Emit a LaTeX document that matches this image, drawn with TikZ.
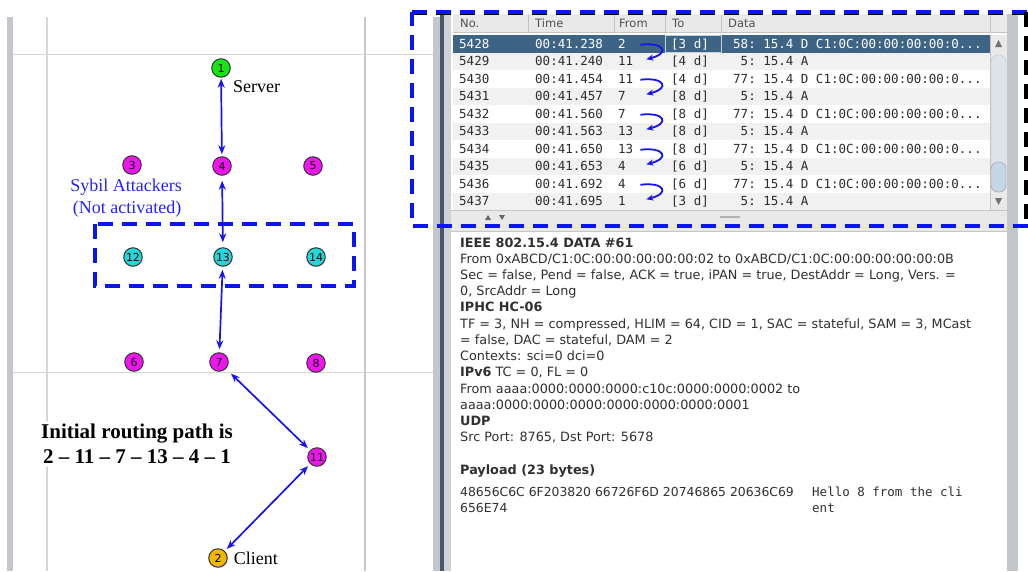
\documentclass[tikz,border=0pt]{standalone}
\usepackage{fontspec}
\setmainfont{Liberation Serif}
\setsansfont{DejaVu Sans}
\setmonofont{DejaVu Sans Mono}
\usetikzlibrary{arrows.meta,positioning,calc}

\definecolor{bargray}{HTML}{C3C7CB}
\definecolor{gridline}{HTML}{D6D6D6}
\definecolor{darkbar}{HTML}{45596A}
\definecolor{selrow}{HTML}{3E6485}
\definecolor{rowgray}{HTML}{F1F1F1}
\definecolor{headfill}{HTML}{E9E9E9}
\definecolor{headline}{HTML}{C4C4C4}
\definecolor{headtext}{HTML}{505050}
\definecolor{tabtext}{HTML}{2C2C2C}
\definecolor{dettext}{HTML}{303030}
\definecolor{linkblue}{HTML}{1414F0}
\definecolor{dashblue}{HTML}{0A14F5}
\definecolor{sybilblue}{HTML}{2424F2}
\definecolor{motegreen}{HTML}{14E614}
\definecolor{motemag}{HTML}{F014F0}
\definecolor{motecyan}{HTML}{1ED9D9}
\definecolor{motegold}{HTML}{F2B705}
\definecolor{thumbfill}{HTML}{DCE3EA}
\definecolor{thumbblue}{HTML}{C5D6E6}

\begin{document}
\begin{tikzpicture}[x=1pt,y=-1pt,
  mote/.style={circle, draw=black!80, line width=1pt, minimum size=18.5pt, inner sep=0pt,
    font=\sffamily\fontsize{11}{11}\selectfont},
  link/.style={{Stealth[length=9pt,width=7pt]}-{Stealth[length=9pt,width=7pt]},
    linkblue, line width=1.7pt, shorten <=3pt, shorten >=3pt},
  lbl/.style={font=\fontsize{18}{20}\selectfont},
  dashbox/.style={draw=dashblue, line width=3.6pt, dash pattern=on 15pt off 9pt},
  cell/.style={anchor=west, inner sep=0pt, text height=9pt, text depth=0pt,
    font=\ttfamily\fontsize{12.5}{14}\selectfont},
  colhead/.style={anchor=west, inner sep=0pt, text=headtext,
    font=\sffamily\fontsize{11.5}{13}\selectfont},
  det/.style={anchor=base west, inner sep=0pt, text=dettext,
    font=\sffamily\fontsize{12.8}{15}\selectfont},
  hook/.style={-{Stealth[length=7pt,width=6pt]}, linkblue, line width=1.8pt}
]
\useasboundingbox (0,0) rectangle (1028,571);

% simulator frame, left side
\fill[bargray] (7,17) rectangle (13,571);
\draw[gridline, line width=1.2pt] (47,17) -- (47,571);
\draw[bargray, line width=1.4pt] (365,17) -- (365,571);
\draw[gridline, line width=1pt] (13,54) -- (433,54);
\draw[gridline, line width=1pt] (13,372) -- (433,372);
\fill[bargray] (433,17) rectangle (440,571);

% motes
\node[mote, fill=motegreen] (n1) at (221,68) {1};
\node[mote, fill=motemag] (n3) at (132,165) {3};
\node[mote, fill=motemag] (n4) at (222,166) {4};
\node[mote, fill=motemag] (n5) at (313,166) {5};
\node[mote, fill=motecyan] (n12) at (133,257) {12};
\node[mote, fill=motecyan] (n13) at (223,257) {13};
\node[mote, fill=motecyan] (n14) at (316,257) {14};
\node[mote, fill=motemag] (n6) at (134,362) {6};
\node[mote, fill=motemag] (n7) at (219,362) {7};
\node[mote, fill=motemag] (n8) at (316,363) {8};
\node[mote, fill=motemag] (n11) at (317,457) {11};
\node[mote, fill=motegold] (n2) at (218,558) {2};

\node[lbl, anchor=west, inner sep=0pt] (srv) at (233,87) {Server};
\node[lbl, right=6pt of n2, inner sep=0pt] (cli) {Client};
\node[lbl, text=sybilblue, inner sep=0pt] (syb) at (126,187) {Sybil Attackers};
\node[lbl, text=sybilblue, inner sep=0pt] (nact) at (127,209) {(Not activated)};
\node[font=\bfseries\fontsize{21}{25}\selectfont, align=center, fill=white, inner sep=3pt]
  (route) at (137,444) {Initial routing path is\\2 – 11 – 7 – 13 – 4 – 1};

\draw[link, shorten <=1pt, shorten >=2pt] (n1) -- (n4);
\draw[link, shorten <=5pt, shorten >=5pt] (n4) -- (n13);
\draw[link] (n13) -- (n7);
\draw[link, shorten <=7pt] (n7) -- (n11);
\draw[link] (n11) -- (n2);

\draw[dashbox] (95,224) rectangle (354,286);

% packet list
\fill[darkbar] (440,14) rectangle (444,571);
\fill[bargray!80] (444,14) rectangle (451,571);
\fill[white] (451,14) rectangle (1007,210);
\fill[headfill] (453,14) rectangle (1007,32);
\draw[headline] (453,32) -- (1007,32);
\foreach \sx in {528,614,665,721,990}
  \draw[headline] (\sx,15) -- (\sx,32);
\node[colhead] (hno) at (460,23) {No.};
\node[colhead] (htm) at (535,23) {Time};
\node[colhead] (hfr) at (619,23) {From};
\node[colhead] (hto) at (672,23) {To};
\node[colhead] (hdt) at (728,23) {Data};

\foreach \i in {2,4,...,10}
  \fill[rowgray] (453,{35+17.5*(\i-1)}) rectangle (990,{52.5+17.5*(\i-1)});
\fill[selrow] (453,35) rectangle (990,52.5);
\draw[white!70!selrow, line width=0.8pt] (665.5,35.5) rectangle (721.5,52);

\foreach \no/\tm/\fr/\dst/\dat [count=\i] in {
  5428/00:41.238/2/{[3 d]}/{58: 15.4 D C1:0C:00:00:00:00:0...},
  5429/00:41.240/11/{[4 d]}/{\hphantom{0}5: 15.4 A},
  5430/00:41.454/11/{[4 d]}/{77: 15.4 D C1:0C:00:00:00:00:0...},
  5431/00:41.457/7/{[8 d]}/{\hphantom{0}5: 15.4 A},
  5432/00:41.560/7/{[8 d]}/{77: 15.4 D C1:0C:00:00:00:00:0...},
  5433/00:41.563/13/{[8 d]}/{\hphantom{0}5: 15.4 A},
  5434/00:41.650/13/{[8 d]}/{77: 15.4 D C1:0C:00:00:00:00:0...},
  5435/00:41.653/4/{[6 d]}/{\hphantom{0}5: 15.4 A},
  5436/00:41.692/4/{[6 d]}/{77: 15.4 D C1:0C:00:00:00:00:0...},
  5437/00:41.695/1/{[3 d]}/{\hphantom{0}5: 15.4 A}} {
  \pgfmathsetmacro\ry{43.75+17.5*(\i-1)}
  \ifnum\i=1 \def\rc{white}\else\def\rc{tabtext}\fi
  \node[cell, text=\rc] (no\i) at (459,\ry) {\no};
  \node[cell, text=\rc] (tm\i) at (535,\ry) {\tm};
  \node[cell, text=\rc, text width=18pt, align=left] (fr\i) at (618,\ry) {\fr};
  \node[cell, text=\rc] (to\i) at (671,\ry) {\dst};
  \node[cell, text=\rc] (dt\i) at (733,\ry) {\dat};
}
\foreach \a/\b in {1/2,3/4,5/6,7/8,9/10}
  \draw[hook] ([xshift=4pt,yshift=-1pt]fr\a.east) .. controls +(24,-3) and +(24,-6) .. ([xshift=10pt,yshift=2pt]fr\b.east);

% scrollbar
\fill[headfill] (990,35) rectangle (1007,210);
\draw[headline] (990,35) -- (990,210);
\fill[black!55] (995,47) -- (1002,47) -- (998.5,40) -- cycle;
\fill[black!55] (995,198) -- (1002,198) -- (998.5,205) -- cycle;
\draw[headline, fill=thumbfill, rounded corners=7pt] (991,55) rectangle (1006,192);
\draw[black!40, fill=thumbblue, rounded corners=7pt] (991,162) rectangle (1006,192);
\fill[bargray] (1007,14) rectangle (1018,571);

% splitter
\fill[headfill] (451,210) rectangle (1007,231);
\draw[headline] (451,210) -- (1007,210);
\fill[black!60] (485,220) -- (491,220) -- (488,215) -- cycle;
\fill[black!60] (499,215) -- (505,215) -- (502,220) -- cycle;
\draw[black!30, line width=1.5pt] (720,217) -- (740,217);

% packet details
\fill[white] (451,231) rectangle (1007,571);
\draw[headline] (451,231) -- (1007,231);
\foreach \ly/\txt [count=\k] in {
  247.5/{\bfseries IEEE 802.15.4 DATA \#61},
  263.5/{From 0xABCD/C1:0C:00:00:00:00:00:02 to 0xABCD/C1:0C:00:00:00:00:00:0B},
  279.5/{Sec = false, Pend = false, ACK = true, iPAN = true, DestAddr = Long, Vers. =},
  295.5/{0, SrcAddr = Long},
  311.5/{\bfseries IPHC HC-06},
  328/{TF = 3, NH = compressed, HLIM = 64, CID = 1, SAC = stateful, SAM = 3, MCast},
  344/{= false, DAC = stateful, DAM = 2},
  360.5/{Contexts: sci=0 dci=0},
  376.5/{\textbf{IPv6} TC = 0, FL = 0},
  393/{From aaaa:0000:0000:0000:c10c:0000:0000:0002 to},
  409/{aaaa:0000:0000:0000:0000:0000:0000:0001},
  425.5/{\bfseries UDP},
  441.5/{Src Port: 8765, Dst Port: 5678},
  474.5/{\bfseries Payload (23 bytes)}}
  \node[det] (dl\k) at (460,\ly) {\txt};
\node[det, font=\sffamily\fontsize{12.4}{14}\selectfont] (hex1) at (460,496.5) {48656C6C 6F203820 66726F6D 20746865 20636C69};
\node[det, font=\sffamily\fontsize{12.4}{14}\selectfont] (hex2) at (460,512.5) {656E74};
\node[det, font=\ttfamily\fontsize{12.5}{14}\selectfont] (asc1) at (812,496.5) {Hello 8 from the cli};
\node[det, font=\ttfamily\fontsize{12.5}{14}\selectfont] (asc2) at (812,512.5) {ent};

% highlight round the packet list
\draw[dashbox, draw=black, line width=5pt] (412,12) -- (1028,12);
\draw[dashbox, line width=3.4pt] (412,12) -- (1028,12);
\draw[dashbox] (1028,226) -- (412,226) -- (412,12);
\draw[dashbox, draw=black, line width=4pt] (1026,12) -- (1026,226);
\end{tikzpicture}
\end{document}
